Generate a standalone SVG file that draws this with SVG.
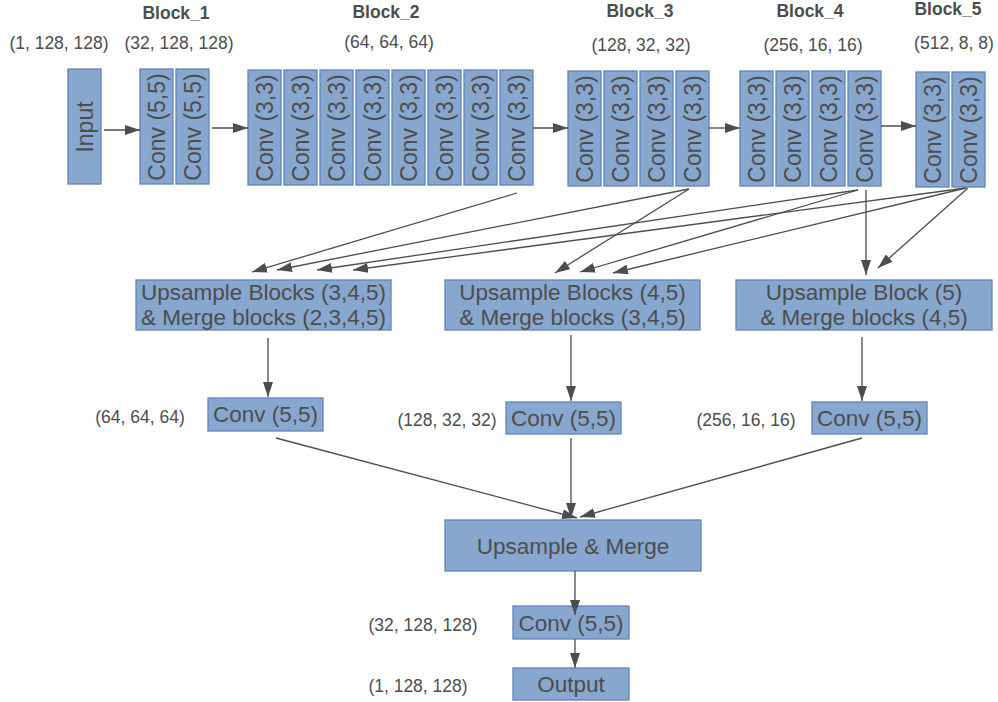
<svg xmlns="http://www.w3.org/2000/svg" width="998" height="702" viewBox="0 0 998 702">
<style>
.b{fill:#88a7ce;stroke:#6283bb;stroke-width:1.3}
.t{font-family:"Liberation Sans",Arial,sans-serif;fill:#4d4d4d}
.v{font-size:23px;text-anchor:middle}
.h{font-size:17.5px;font-weight:bold;text-anchor:middle}
.s{font-size:17.5px;text-anchor:middle}
.n{font-size:22.5px;text-anchor:middle}
.c{stroke:#4d4d4d;stroke-width:1.3;fill:none;marker-end:url(#ah)}
</style>
<defs>
<marker id="ah" markerWidth="15" markerHeight="10" refX="15" refY="5" orient="auto" markerUnits="userSpaceOnUse"><path d="M0,0 L15,5 L0,10 z" fill="#4d4d4d"/></marker>
</defs>
<rect width="998" height="702" fill="#ffffff"/>
<g id="labels" class="t">
<text class="h" x="176" y="19">Block_1</text>
<text class="h" x="386" y="18">Block_2</text>
<text class="h" x="640" y="17">Block_3</text>
<text class="h" x="810" y="17">Block_4</text>
<text class="h" x="948" y="15">Block_5</text>
<text class="s" x="59" y="49">(1, 128, 128)</text>
<text class="s" x="179" y="49">(32, 128, 128)</text>
<text class="s" x="389" y="48">(64, 64, 64)</text>
<text class="s" x="641" y="51">(128, 32, 32)</text>
<text class="s" x="813" y="51">(256, 16, 16)</text>
<text class="s" x="954" y="49">(512, 8, 8)</text>
<text class="s" x="140" y="423">(64, 64, 64)</text>
<text class="s" x="447" y="426">(128, 32, 32)</text>
<text class="s" x="746" y="426">(256, 16, 16)</text>
<text class="s" x="423" y="631">(32, 128, 128)</text>
<text class="s" x="418" y="692">(1, 128, 128)</text>
</g>
<g id="input"><rect class="b" x="68" y="69" width="33" height="115"/><text class="t v" transform="translate(92.5,127) rotate(-90)">Input</text></g>
<g id="block1">
<rect class="b" x="140" y="69" width="33" height="115"/><text class="t v" transform="translate(164.5,127) rotate(-90)">Conv (5,5)</text>
<rect class="b" x="176" y="69" width="33" height="115"/><text class="t v" transform="translate(200.5,127) rotate(-90)">Conv (5,5)</text>
</g>
<g id="block2">
<rect class="b" x="248" y="70" width="33" height="115"/><text class="t v" transform="translate(272.5,128) rotate(-90)">Conv (3,3)</text>
<rect class="b" x="284" y="70" width="33" height="115"/><text class="t v" transform="translate(308.5,128) rotate(-90)">Conv (3,3)</text>
<rect class="b" x="320" y="70" width="33" height="115"/><text class="t v" transform="translate(344.5,128) rotate(-90)">Conv (3,3)</text>
<rect class="b" x="356" y="70" width="33" height="115"/><text class="t v" transform="translate(380.5,128) rotate(-90)">Conv (3,3)</text>
<rect class="b" x="392" y="70" width="33" height="115"/><text class="t v" transform="translate(416.5,128) rotate(-90)">Conv (3,3)</text>
<rect class="b" x="428" y="70" width="33" height="115"/><text class="t v" transform="translate(452.5,128) rotate(-90)">Conv (3,3)</text>
<rect class="b" x="464" y="70" width="33" height="115"/><text class="t v" transform="translate(488.5,128) rotate(-90)">Conv (3,3)</text>
<rect class="b" x="500" y="70" width="33" height="115"/><text class="t v" transform="translate(524.5,128) rotate(-90)">Conv (3,3)</text>
</g>
<g id="block3">
<rect class="b" x="568" y="71" width="33" height="115"/><text class="t v" transform="translate(592.5,129) rotate(-90)">Conv (3,3)</text>
<rect class="b" x="604" y="71" width="33" height="115"/><text class="t v" transform="translate(628.5,129) rotate(-90)">Conv (3,3)</text>
<rect class="b" x="640" y="71" width="33" height="115"/><text class="t v" transform="translate(664.5,129) rotate(-90)">Conv (3,3)</text>
<rect class="b" x="676" y="71" width="33" height="115"/><text class="t v" transform="translate(700.5,129) rotate(-90)">Conv (3,3)</text>
</g>
<g id="block4">
<rect class="b" x="740" y="71" width="33" height="115"/><text class="t v" transform="translate(764.5,129) rotate(-90)">Conv (3,3)</text>
<rect class="b" x="776" y="71" width="33" height="115"/><text class="t v" transform="translate(800.5,129) rotate(-90)">Conv (3,3)</text>
<rect class="b" x="812" y="71" width="33" height="115"/><text class="t v" transform="translate(836.5,129) rotate(-90)">Conv (3,3)</text>
<rect class="b" x="848" y="71" width="33" height="115"/><text class="t v" transform="translate(872.5,129) rotate(-90)">Conv (3,3)</text>
</g>
<g id="block5">
<rect class="b" x="916" y="72" width="33" height="115"/><text class="t v" transform="translate(940.5,130) rotate(-90)">Conv (3,3)</text>
<rect class="b" x="952" y="72" width="33" height="115"/><text class="t v" transform="translate(976.5,130) rotate(-90)">Conv (3,3)</text>
</g>
<g id="upA"><rect class="b" x="136" y="280" width="255" height="50"/><text class="t n" x="263.5" y="300">Upsample Blocks (3,4,5)</text><text class="t n" x="263.5" y="325">&amp; Merge blocks (2,3,4,5)</text></g>
<g id="upB"><rect class="b" x="445" y="280" width="255" height="50"/><text class="t n" x="572.5" y="300">Upsample Blocks (4,5)</text><text class="t n" x="572.5" y="325">&amp; Merge blocks (3,4,5)</text></g>
<g id="upC"><rect class="b" x="736" y="280" width="256" height="50"/><text class="t n" x="864" y="300">Upsample Block (5)</text><text class="t n" x="864" y="325">&amp; Merge blocks (4,5)</text></g>
<g id="convA"><rect class="b" x="208" y="398" width="115" height="33"/><text class="t n" x="265.5" y="422">Conv (5,5)</text></g>
<g id="convB"><rect class="b" x="506" y="402" width="115" height="32"/><text class="t n" x="563.5" y="426">Conv (5,5)</text></g>
<g id="convC"><rect class="b" x="812" y="402" width="115" height="32"/><text class="t n" x="869.5" y="426">Conv (5,5)</text></g>
<g id="merge"><rect class="b" x="445" y="520" width="256" height="51"/><text class="t n" x="573" y="554">Upsample &amp; Merge</text></g>
<g id="convF"><rect class="b" x="513" y="606" width="116" height="33"/><text class="t n" x="571" y="631">Conv (5,5)</text></g>
<g id="output"><rect class="b" x="513" y="668" width="116" height="32"/><text class="t n" x="571" y="692">Output</text></g>
<g id="connectors">
<line class="c" x1="104" y1="130" x2="140" y2="130"/>
<line class="c" x1="212" y1="128" x2="248" y2="128"/>
<line class="c" x1="533" y1="128" x2="568" y2="128"/>
<line class="c" x1="709" y1="128" x2="740" y2="128"/>
<line class="c" x1="881" y1="126" x2="916" y2="126"/>
<line class="c" x1="517" y1="193" x2="252" y2="272"/>
<line class="c" x1="689" y1="189" x2="277" y2="270"/>
<line class="c" x1="858" y1="190" x2="317" y2="270"/>
<line class="c" x1="966" y1="188" x2="353" y2="270"/>
<line class="c" x1="689" y1="189" x2="555" y2="273"/>
<line class="c" x1="858" y1="190" x2="580" y2="272"/>
<line class="c" x1="966" y1="188" x2="613" y2="273"/>
<line class="c" x1="866" y1="190" x2="866" y2="275"/>
<line class="c" x1="968" y1="188" x2="878" y2="268"/>
<line class="c" x1="268" y1="338" x2="268" y2="397"/>
<line class="c" x1="571" y1="335" x2="571" y2="401"/>
<line class="c" x1="862" y1="337" x2="862" y2="401"/>
<line class="c" x1="276" y1="438" x2="577" y2="518"/>
<line class="c" x1="571" y1="438" x2="571" y2="518"/>
<line class="c" x1="862" y1="438" x2="580" y2="517"/>
<line class="c" x1="575" y1="571" x2="575" y2="615"/>
<line class="c" x1="575" y1="639" x2="575" y2="668"/>
</g>
</svg>
